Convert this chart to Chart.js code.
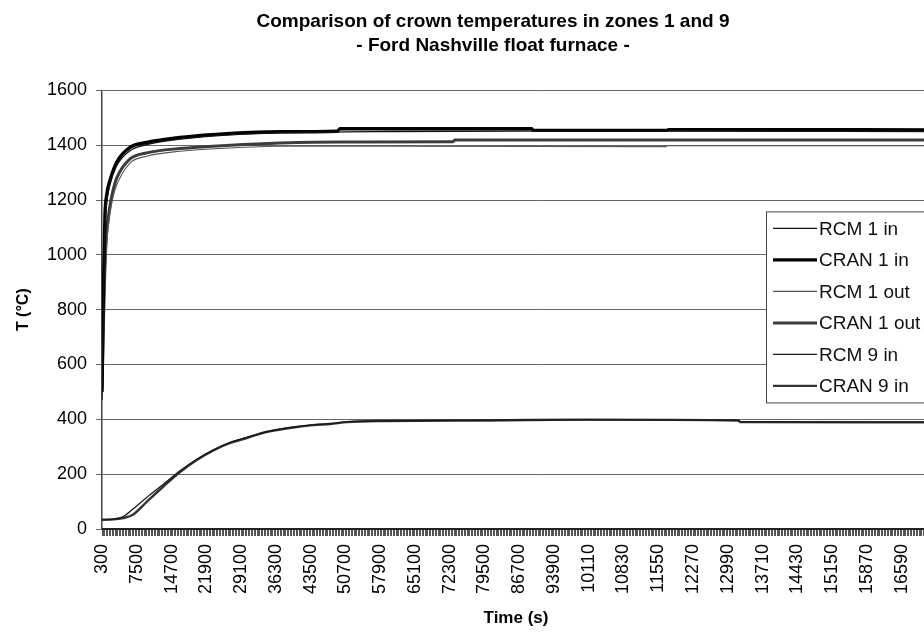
<!DOCTYPE html>
<html>
<head>
<meta charset="utf-8">
<script src="https://cdn.jsdelivr.net/npm/chart.js@4.4.1/dist/chart.umd.min.js"></script>
<style>
  html, body { margin: 0; padding: 0; background: #fff; overflow: hidden; }
  #wrap { position: relative; width: 976px; height: 632px; }
</style>
</head>
<body>
<div id="wrap"><canvas id="c" width="976" height="632"></canvas></div>
<script>
// Chart text
const titleLines = ['Comparison of crown temperatures in zones 1 and 9', '- Ford Nashville float furnace -'];
const xTitle = 'Time (s)';
const yTitle = 'T (°C)';

// Labelled x positions (s) and the text printed under them
const tickTimes = [300, 7500, 14700, 21900, 29100, 36300, 43500, 50700, 57900, 65100, 72300, 79500,
                   86700, 93900, 101100, 108300, 115500, 122700, 129900, 137100, 144300, 151500, 158700, 165900];
const tickLabels = ['300', '7500', '14700', '21900', '29100', '36300', '43500', '50700', '57900', '65100', '72300', '79500',
                    '86700', '93900', '10110', '10830', '11550', '12270', '12990', '13710', '14430', '15150', '15870', '16590'];
const timeStep = 300;        // sampling interval of the time axis (one minor tick each)
const timeAxisMax = 181300;  // right end of the time axis

// Series: [time (s), temperature (°C)]
const seriesNames = ['RCM 1 in', 'CRAN 1 in', 'RCM 1 out', 'CRAN 1 out', 'RCM 9 in', 'CRAN 9 in'];

const rcm1In = [[300, 470], [600, 820], [920, 1100], [1270, 1190], [1960, 1258], [3340, 1325], [6100, 1380],
  [9560, 1402], [16460, 1422], [26830, 1438], [37200, 1445], [60000, 1450], [100000, 1452], [140000, 1451], [172800, 1450]];

const cran1In = [[300, 500], [600, 880], [920, 1146], [1270, 1218], [1960, 1272], [3340, 1338], [6100, 1392],
  [9560, 1410], [16460, 1428], [26830, 1443], [37200, 1449], [49000, 1451], [49600, 1460], [89300, 1460],
  [89600, 1454], [117300, 1454], [117600, 1457], [172800, 1456]];

const rcm1Out = [[300, 490], [600, 700], [920, 900], [1270, 1040], [1960, 1150], [2640, 1215], [3340, 1255],
  [6100, 1335], [9560, 1360], [16460, 1378], [26830, 1390], [37200, 1396], [60000, 1396], [117000, 1395],
  [117400, 1398], [172800, 1398]];

const cran1Out = [[300, 510], [600, 760], [920, 960], [1270, 1080], [1960, 1180], [2640, 1240], [3340, 1280],
  [6100, 1350], [9560, 1372], [16460, 1388], [26830, 1400], [37200, 1408], [50000, 1412], [73000, 1413],
  [73400, 1419], [172800, 1419]];

const rcm9In = [[300, 33], [2640, 36], [4710, 45], [6780, 74], [9560, 115], [13000, 163], [16460, 212],
  [19920, 254], [23360, 288], [26820, 315], [30280, 334], [33720, 352], [37180, 364], [40640, 373],
  [44080, 380], [47540, 384], [51000, 391], [57900, 394], [80000, 397], [100000, 398], [132000, 397],
  [132500, 392], [172800, 391]];

const cran9In = [[300, 34], [2640, 35], [4710, 40], [6780, 53], [9560, 99], [13000, 155], [16460, 208],
  [19920, 252], [23360, 287], [26820, 314], [30280, 332], [33720, 351], [37180, 363], [40640, 372],
  [44080, 379], [47540, 383], [51000, 390], [57900, 394], [80000, 396], [100000, 399], [132000, 396],
  [132500, 390], [172800, 389]];

const seriesData = [rcm1In, cran1In, rcm1Out, cran1Out, rcm9In, cran9In];
const seriesColors = ['#111111', '#000000', '#555555', '#3c3c3c', '#1a1a1a', '#333333'];
const seriesWidths = [1.3, 3.4, 1.1, 3.0, 1.3, 2.4];

const FONT = "'Liberation Sans', Arial, Helvetica, sans-serif";
Chart.defaults.font.family = FONT;
Chart.defaults.color = '#111';

// Boxed legend drawn over the plot area, plus the time-axis caption
const floatLegend = {
  id: 'floatLegend',
  afterDraw(chart) {
    const { ctx, chartArea } = chart;
    const x0 = chartArea.left + 664, y0 = chartArea.top + 121;
    const w = 210, h = 191, rowH = 31.5;
    ctx.save();
    ctx.fillStyle = '#fff';
    ctx.fillRect(x0, y0, w, h);
    ctx.strokeStyle = '#444';
    ctx.lineWidth = 1;
    ctx.strokeRect(x0 + 0.5, y0 + 0.5, w, h);
    ctx.font = '19px ' + FONT;
    ctx.textBaseline = 'middle';
    ctx.textAlign = 'left';
    chart.data.datasets.forEach((ds, i) => {
      const cy = y0 + 17 + i * rowH;
      ctx.strokeStyle = ds.borderColor;
      ctx.lineWidth = ds.borderWidth;
      ctx.beginPath();
      ctx.moveTo(x0 + 7, cy);
      ctx.lineTo(x0 + 51, cy);
      ctx.stroke();
      ctx.fillStyle = '#111';
      ctx.fillText(ds.label, x0 + 53, cy + 1);
    });

    // caption under the time axis
    ctx.font = 'bold 17px ' + FONT;
    ctx.textAlign = 'center';
    ctx.fillStyle = '#000';
    ctx.fillText(xTitle, chartArea.left + 414, chart.height - 14);
    ctx.restore();
  }
};

// Scales keep no extra side padding for overhanging labels
function noOverhang(scale) {
  scale.paddingLeft = 0;
  scale.paddingRight = 0;
  scale.paddingTop = 0;
  scale.paddingBottom = 0;
}

new Chart(document.getElementById('c'), {
  type: 'line',
  data: {
    datasets: seriesNames.map((name, i) => ({
      label: name,
      data: seriesData[i].map(([t, v]) => ({ x: t, y: v })),
      borderColor: seriesColors[i],
      backgroundColor: seriesColors[i],
      borderWidth: seriesWidths[i],
      pointRadius: 0,
      cubicInterpolationMode: 'monotone',
      fill: false
    }))
  },
  options: {
    responsive: false,
    animation: false,
    devicePixelRatio: 1,
    layout: { padding: { left: 10, right: 0, top: 0, bottom: 0 } },
    plugins: {
      legend: { display: false },
      tooltip: { enabled: false },
      title: {
        display: true,
        text: titleLines,
        font: { size: 19, weight: 'bold', lineHeight: 1.3 },
        color: '#000',
        padding: { top: 9, bottom: 32 }
      }
    },
    scales: {
      x: {
        type: 'linear',
        min: tickTimes[0],
        max: timeAxisMax,
        afterBuildTicks(scale) {
          const ticks = [];
          for (let t = tickTimes[0]; t <= timeAxisMax; t += timeStep) ticks.push({ value: t });
          scale.ticks = ticks;
        },
        afterFit(scale) { scale.height = 103; noOverhang(scale); },
        ticks: {
          autoSkip: false,
          minRotation: 90,
          maxRotation: 90,
          padding: 8,
          font: { size: 18 },
          color: '#000',
          callback(value) {
            const i = tickTimes.indexOf(value);
            return i >= 0 ? tickLabels[i] : '';
          }
        },
        grid: { drawOnChartArea: false, drawTicks: true, tickLength: 7, color: '#555', lineWidth: 1 },
        border: { display: true, color: '#222', width: 2 },
        title: { display: false }
      },
      y: {
        min: 0,
        max: 1600,
        afterFit(scale) { scale.width = 92; noOverhang(scale); },
        ticks: { stepSize: 200, padding: 9, font: { size: 18 }, color: '#000', callback: (v) => String(v) },
        grid: { color: '#666', lineWidth: 1, tickLength: 6, drawTicks: true },
        border: { display: true, color: '#444', width: 1.5 },
        title: { display: true, text: yTitle, font: { size: 16, weight: 'bold' }, color: '#000', padding: { top: 4, bottom: 4 } }
      }
    }
  },
  plugins: [floatLegend]
});
</script>
</body>
</html>
